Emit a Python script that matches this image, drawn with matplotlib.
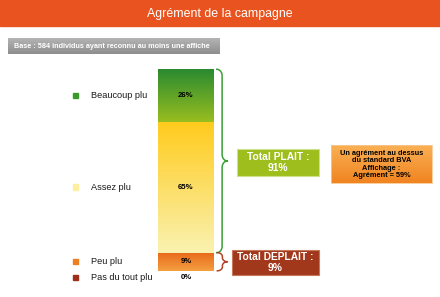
import numpy as np
import matplotlib
matplotlib.use("Agg")
import matplotlib.pyplot as plt
from matplotlib.patches import Rectangle
from matplotlib.colors import to_rgb
from matplotlib.transforms import blended_transform_factory

plt.rcParams['font.family'] = ['Liberation Sans', 'DejaVu Sans']

# data
categories = ["Beaucoup plu", "Assez plu", "Peu plu", "Pas du tout plu"]
values = [26, 65, 9, 0]
legend_colors = ["#3C9A2C", "#FCEFA0", "#EE7E22", "#9E2E1A"]
grad_top = ["#2A8A30", "#FFCB1E", "#E8681A", "#9E2E1A"]
grad_bot = ["#98BE20", "#FAF2B0", "#F4A040", "#9E2E1A"]
title = "Agrément de la campagne"
base_text = "Base : 584 individus ayant reconnu au moins une affiche"
note_text = "Un agrément au dessus\ndu standard BVA\nAffichage :\nAgrément = 59%"

plait = values[0] + values[1]
deplait = values[2] + values[3]

W, H = 440, 297
fig = plt.figure(figsize=(W / 100, H / 100), dpi=100)
fig.patch.set_facecolor("white")

# overlay in pixel coords
bg = fig.add_axes([0, 0, 1, 1])
bg.set_xlim(0, W)
bg.set_ylim(H, 0)
bg.axis("off")


def gradient(c1, c2, n=64):
    a, b = np.array(to_rgb(c1)), np.array(to_rgb(c2))
    t = np.linspace(0, 1, n)[:, None]
    return (a * (1 - t) + b * t)[:, None, :]


# title bar
bg.add_patch(Rectangle((0, 0), W, 26, color="#E8531F", zorder=1))
bg.text(W / 2, 13.5, title, color="white", fontsize=8.9, ha="center", va="center")

# base label
bg.imshow(gradient("#B4B4B4", "#8E8E8E"), extent=(8, 220, 54, 38), aspect="auto", zorder=1)
bg.text(14, 46.5, base_text, color="white", fontsize=5.2, fontweight="bold",
        ha="left", va="center")

# orange note box
bg.imshow(gradient("#FAB055", "#F08420"), extent=(331, 432, 183, 145), aspect="auto", zorder=1)
bg.add_patch(Rectangle((331, 145), 101, 38, fill=False, ec="#F8C890", lw=0.6, zorder=2))
bg.text(381.5, 164.5, note_text, color="black", fontsize=5.3, fontweight="bold",
        ha="center", va="center", linespacing=1.12)

# total boxes
bg.add_patch(Rectangle((237, 149), 82, 27, fc="#9DBE1C", ec="#CDE08A", lw=0.8, zorder=2))
bg.text(278, 162.5, "Total PLAIT :\n%d%%" % plait, color="white", fontsize=7.4,
        fontweight="bold", ha="center", va="center", linespacing=1.15, zorder=3)
bg.add_patch(Rectangle((232, 250), 87, 25, fc="#A2381B", ec="#C8785A", lw=0.8, zorder=2))
bg.text(275.5, 262.5, "Total DEPLAIT :\n%d%%" % deplait, color="white", fontsize=7.4,
        fontweight="bold", ha="center", va="center", linespacing=1.1, zorder=3)

# stacked bar
x0, x1 = 158, 214
top, bot = 69.3, 270.8
ax = fig.add_axes([x0 / W, 1 - bot / H, (x1 - x0) / W, (bot - top) / H])
ax.set_xlim(0, 1)
ax.set_ylim(100, 0)
ax.axis("off")

lab = blended_transform_factory(bg.transData, ax.transData)
bottom = 0
for cat, v, lc, c1, c2 in zip(categories, values, legend_colors, grad_top, grad_bot):
    if v > 0:
        bars = ax.bar(0.5, v, bottom=bottom, width=1.0, color=c2, ec="none")
        im = ax.imshow(gradient(c1, c2), extent=(0, 1, bottom + v, bottom),
                       aspect="auto", zorder=2)
        im.set_clip_path(bars[0])
        ymid = bottom + v / 2
        off = 0
    else:
        # 0% segment: label just below the bar
        ymid = bottom
        off = -4.7
    ax.annotate("%d%%" % v, (0.5, ymid), xytext=(0, off), textcoords="offset points",
                ha="center", va="center", fontsize=5.6, fontweight="bold", annotation_clip=False)
    ax.annotate(cat, (91, ymid), xycoords=lab, xytext=(0, off), textcoords="offset points",
                fontsize=6.6, ha="left", va="center", color="#1a1a1a", annotation_clip=False)
    sq_y = top + (ymid / 100) * (bot - top) - off * 100 / 72
    bg.add_patch(Rectangle((73, sq_y - 2.7), 5.4, 5.4, color=lc, zorder=3))
    bottom += v


def brace(ax, xa, y0, y1, w, r, color):
    tr = blended_transform_factory(ax.transAxes, ax.transData)
    a = w / 2
    mid = (y0 + y1) / 2
    t = np.linspace(0, np.pi / 2, 20)
    xs = np.concatenate([xa + a * np.sin(t), xa + 2 * a - a * np.cos(t),
                         (xa + 2 * a - a * np.cos(t))[::-1], (xa + a * np.sin(t))[::-1]])
    ys = np.concatenate([y0 + r - r * np.cos(t), mid - r + r * np.sin(t),
                         (mid + r - r * np.sin(t))[::-1], (y1 - r + r * np.cos(t))[::-1]])
    ax.plot(xs, ys, color=color, lw=1.1, transform=tr, clip_on=False)


brace(ax, 1.05, 0, plait, 0.19, 3.2, "#3AA035")
brace(ax, 1.06, plait, 100, 0.18, 2.0, "#B0442A")

fig.savefig("out.png", dpi=100)
